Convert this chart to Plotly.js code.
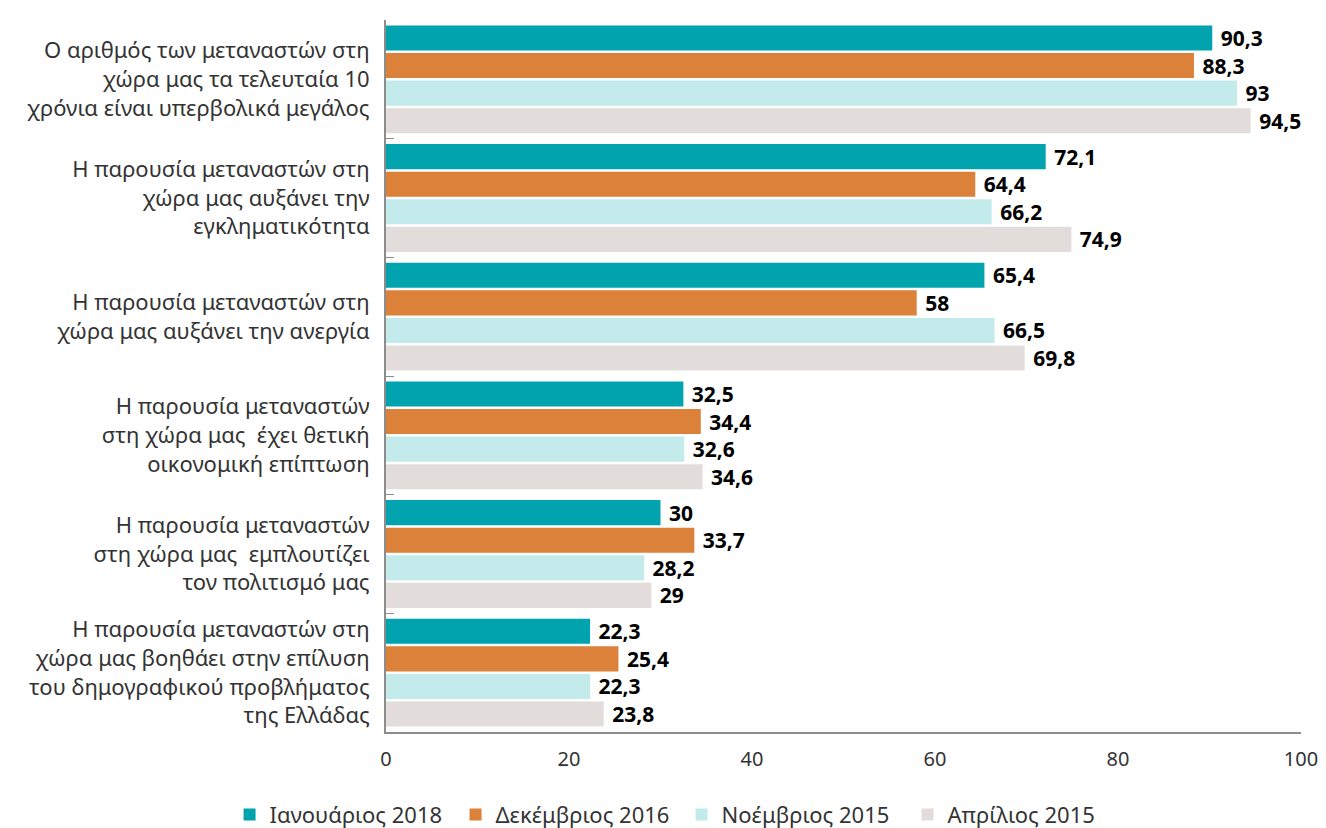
<!DOCTYPE html>
<html>
<head>
<meta charset="utf-8">
<script src="https://cdn.plot.ly/plotly-3.0.1.min.js"></script>
<style>
	html, body { margin: 0; padding: 0; background: #fff; }
	#chart { width: 1326px; height: 828px; }
</style>
</head>
<body>
<div id="chart"></div>
<script>
// statements shown on the y axis
const statements = [
	'Ο αριθμός των μεταναστών στη<br>χώρα μας τα τελευταία 10<br>χρόνια είναι υπερβολικά μεγάλος',
	'Η παρουσία μεταναστών στη<br>χώρα μας αυξάνει την<br>εγκληματικότητα',
	'Η παρουσία μεταναστών στη<br>χώρα μας αυξάνει την ανεργία',
	'Η παρουσία μεταναστών<br>στη χώρα μας  έχει θετική<br>οικονομική επίπτωση',
	'Η παρουσία μεταναστών<br>στη χώρα μας  εμπλουτίζει<br>τον πολιτισμό μας',
	'Η παρουσία μεταναστών στη<br>χώρα μας βοηθάει στην επίλυση<br>του δημογραφικού προβλήματος<br>της Ελλάδας'
];

const surveyNames = [ 'Ιανουάριος 2018', 'Δεκέμβριος 2016', 'Νοέμβριος 2015', 'Απρίλιος 2015' ];

const jan2018 = [ 90.3, 72.1, 65.4, 32.5, 30, 22.3 ];
const dec2016 = [ 88.3, 64.4, 58, 34.4, 33.7, 25.4 ];
const nov2015 = [ 93, 66.2, 66.5, 32.6, 28.2, 22.3 ];
const apr2015 = [ 94.5, 74.9, 69.8, 34.6, 29, 23.8 ];

const colors = [ '#00a3ae', '#db813a', '#c3ebeb', '#e2ddda' ];

const font = 'Noto Sans, Open Sans, sans-serif';

// greek style decimals, with a small gap before the label
function commaText( values ) {
	return values.map( v => '\u00a0' + String( v ).replace( '.', ',' ) );
}

const series = [ jan2018, dec2016, nov2015, apr2015 ];
let data = [ ];

for ( let i = 0; i < series.length; i++ ) {

	data.push( {
		type: 'bar',
		orientation: 'h',
		name: surveyNames[ i ],
		x: series[ i ],
		y: statements,
		text: commaText( series[ i ] ),
		textposition: 'outside',
		textfont: { family: font, size: 21, color: '#000', weight: 'bold' },
		constraintext: 'none',
		cliponaxis: false,
		marker: { color: colors[ i ] },
		hoverinfo: 'x+name'
	} );
}

const layout = {
	width: 1326,
	height: 828,
	margin: { l: 386, r: 25, t: 20, b: 96 },
	paper_bgcolor: '#fff',
	plot_bgcolor: '#fff',
	font: { family: font, size: 20, color: '#333' },
	barmode: 'group',
	bargap: 0.07,
	bargroupgap: 0.09,
	showlegend: true,
	legend: {
		orientation: 'h',
		xref: 'container',
		yref: 'container',
		x: 0.514,
		xanchor: 'center',
		y: 0.016,
		yanchor: 'middle',
		traceorder: 'normal',
		font: { family: font, size: 22, color: '#333' },
		itemwidth: 30,
		entrywidth: 181
	},
	xaxis: {
		range: [ 0, 100 ],
		dtick: 20,
		showgrid: false,
		zeroline: false,
		showline: true,
		linecolor: '#8c8c8c',
		linewidth: 2,
		ticks: '',
		ticklabelstandoff: 8,
		tickfont: { family: font, size: 20, color: '#333' }
	},
	yaxis: {
		autorange: 'reversed',
		type: 'category',
		showgrid: false,
		showline: true,
		linecolor: '#8c8c8c',
		linewidth: 2,
		ticks: 'inside',
		tickson: 'boundaries',
		ticklen: 8,
		tickcolor: '#8c8c8c',
		ticklabelstandoff: 10,
		tickfont: { family: font, size: 22, color: '#333' }
	}
};

Plotly.newPlot( 'chart', data, layout, { displayModeBar: false } );
</script>
</body>
</html>
